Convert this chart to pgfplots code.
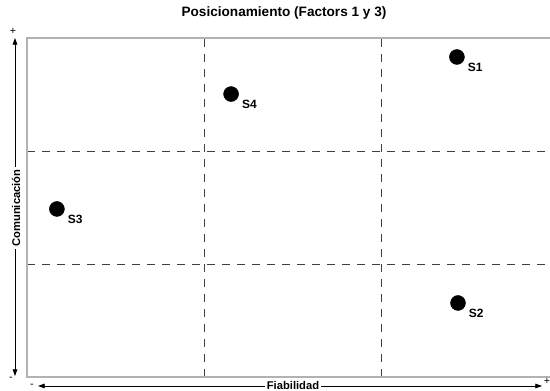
\documentclass[border=0pt]{standalone}
\usepackage{pgfplots}
\pgfplotsset{compat=1.18}
\usepackage{fontspec}
\setmainfont{Liberation Sans}
\usetikzlibrary{arrows.meta}
\begin{document}
\begin{tikzpicture}[x=0.75pt,y=0.75pt]
\useasboundingbox (0,0) rectangle (550,391);
\begin{axis}[
  at={(20.25pt,10.5pt)}, anchor=south west,
  scale only axis,
  width=398.25pt, height=254.25pt,
  xmin=0, xmax=3, ymin=0, ymax=3,
  xtick={1,2}, ytick={0,1,2,3},
  xticklabels={}, yticklabels={},
  major tick length=0pt,
  grid=major,
  major grid style={draw=black!75, line width=0.6pt, dash pattern=on 6pt off 5.25pt},
  axis line style={draw=gray!60, line width=0.8pt},
  clip=false,
]
\addplot[only marks, mark=*, mark size=5.6pt, black,
  nodes near coords, point meta=explicit symbolic,
  every node near coord/.style={anchor=north west, inner sep=0pt, xshift=8pt, yshift=-4.5pt, font=\fontsize{9}{10}\selectfont\bfseries, text=black}]
  table[meta=label] {
x y label
2.429 2.832 S1
2.435 0.655 S2
0.169 1.487 S3
1.153 2.504 S4
};
\end{axis}
\node[font=\fontsize{10.2}{12}\selectfont\bfseries] at (284,391-13) {Posicionamiento (Factors 1 y 3)};
% vertical arrow
\draw[line width=0.6pt, {Triangle[length=5pt,width=3.5pt]}-{Triangle[length=5pt,width=3.5pt]}] (15,391-376) -- (15,391-38);
\node[rotate=90, fill=white, inner sep=1.5pt, font=\fontsize{8.4}{10}\selectfont\bfseries] at (16,391-208) {Comunicación};
\node[font=\fontsize{8}{9}\selectfont, inner sep=0pt] at (13,391-31) {+};
\node[font=\fontsize{8}{9}\selectfont, inner sep=0pt] at (11,391-379) {-};
% horizontal arrow
\draw[line width=0.6pt, {Triangle[length=5pt,width=3.5pt]}-{Triangle[length=5pt,width=3.5pt]}] (38,391-386) -- (542,391-386);
\node[fill=white, inner sep=1.5pt, font=\fontsize{8.4}{10}\selectfont\bfseries] at (293,391-386) {Fiabilidad};
\node[font=\fontsize{8}{9}\selectfont, inner sep=0pt] at (32,391-386) {-};
\node[font=\fontsize{8}{9}\selectfont, inner sep=0pt] at (547,391-381) {+};
\end{tikzpicture}
\end{document}
